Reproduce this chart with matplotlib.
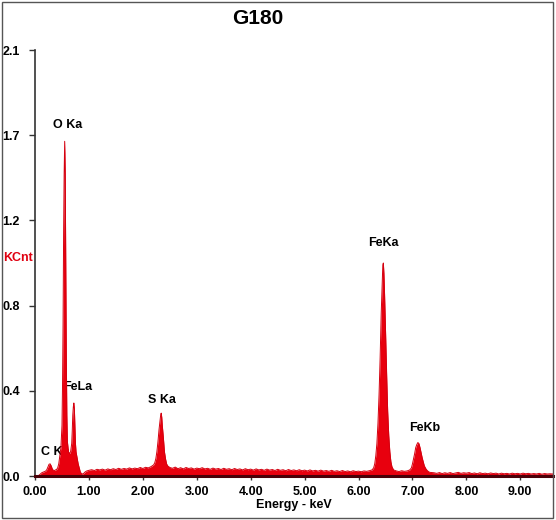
import matplotlib
matplotlib.use("Agg")
import matplotlib.pyplot as plt
from matplotlib.patches import Rectangle

# EDS spectrum G180 (energy in keV, intensity in KCnt)
energy_kev = [
    0.00, 0.02, 0.04, 0.06, 0.08, 0.10, 0.12, 0.14, 0.16, 0.18, 0.20, 0.22, 0.24, 0.26, 0.28,
    0.30, 0.32, 0.34, 0.36, 0.38, 0.40, 0.42, 0.44, 0.46, 0.48, 0.50, 0.51, 0.52, 0.53, 0.54,
    0.55, 0.56, 0.57, 0.58, 0.59, 0.60, 0.62, 0.64, 0.66, 0.68, 0.69, 0.70, 0.71, 0.72, 0.73,
    0.74, 0.75, 0.76, 0.78, 0.80, 0.82, 0.84, 0.86, 0.88, 0.90, 0.92, 0.94, 0.96,
    1.00, 1.05, 1.10, 1.15, 1.20, 1.25, 1.30, 1.35, 1.40, 1.45, 1.50, 1.55, 1.60, 1.65, 1.70,
    1.75, 1.80, 1.85, 1.90, 1.95, 2.00, 2.05, 2.10, 2.15, 2.20,
    2.22, 2.24, 2.26, 2.28, 2.30, 2.32, 2.33, 2.34, 2.35, 2.36, 2.38, 2.40, 2.42, 2.44, 2.46, 2.50,
    2.55, 2.60, 2.65, 2.70, 2.75, 2.80, 2.85, 2.90, 2.95, 3.00, 3.05, 3.10, 3.15, 3.20, 3.25,
    3.30, 3.35, 3.40, 3.45, 3.50, 3.55, 3.60, 3.65, 3.70, 3.75, 3.80, 3.85, 3.90, 3.95, 4.00,
    4.05, 4.10, 4.15, 4.20, 4.25, 4.30, 4.35, 4.40, 4.45, 4.50, 4.55, 4.60, 4.65, 4.70, 4.75,
    4.80, 4.85, 4.90, 4.95, 5.00, 5.05, 5.10, 5.15, 5.20, 5.25, 5.30, 5.35, 5.40, 5.45, 5.50,
    5.55, 5.60, 5.65, 5.70, 5.75, 5.80, 5.85, 5.90, 5.95, 6.00, 6.05, 6.10, 6.15, 6.20, 6.25,
    6.28, 6.30, 6.32, 6.34, 6.36, 6.38, 6.40, 6.42, 6.44, 6.45, 6.46, 6.47, 6.48, 6.50, 6.52,
    6.54, 6.56, 6.58, 6.60, 6.62, 6.65, 6.70, 6.75, 6.80, 6.85, 6.90, 6.95,
    6.98, 7.00, 7.02, 7.04, 7.06, 7.08, 7.10, 7.12, 7.14, 7.16, 7.18, 7.20, 7.22, 7.25, 7.28, 7.32,
    7.40, 7.45, 7.50, 7.55, 7.60, 7.65, 7.70, 7.75, 7.80, 7.85, 7.90, 7.95, 8.00, 8.05, 8.10,
    8.15, 8.20, 8.25, 8.30, 8.35, 8.40, 8.45, 8.50, 8.55, 8.60, 8.65, 8.70, 8.75, 8.80, 8.85,
    8.90, 8.95, 9.00, 9.05, 9.10, 9.15, 9.20, 9.25, 9.30, 9.35, 9.40, 9.45, 9.50, 9.55, 9.60,
]
kcnt = [
    0.000, 0.000, 0.000, 0.002, 0.005, 0.010, 0.015, 0.018, 0.020, 0.022, 0.025, 0.032, 0.045, 0.058, 0.060,
    0.050, 0.035, 0.028, 0.027, 0.030, 0.032, 0.040, 0.060, 0.100, 0.140, 0.250, 0.450, 0.750, 1.200, 1.490,
    1.650, 1.490, 1.050, 0.600, 0.300, 0.170, 0.120, 0.110, 0.120, 0.160, 0.220, 0.300, 0.340, 0.360, 0.330,
    0.240, 0.160, 0.120, 0.090, 0.060, 0.040, 0.020, 0.012, 0.010, 0.012, 0.018, 0.022, 0.025,
    0.028, 0.031, 0.027, 0.033, 0.030, 0.034, 0.029, 0.035, 0.031, 0.036, 0.032, 0.038, 0.033, 0.037, 0.034,
    0.040, 0.035, 0.039, 0.036, 0.042, 0.037, 0.043, 0.040, 0.046, 0.055,
    0.065, 0.085, 0.120, 0.170, 0.230, 0.280, 0.300, 0.310, 0.290, 0.250, 0.190, 0.120, 0.085, 0.060, 0.050, 0.042,
    0.038, 0.044, 0.036, 0.041, 0.035, 0.042, 0.037, 0.040, 0.034, 0.039, 0.036, 0.041, 0.035, 0.038, 0.033,
    0.039, 0.034, 0.037, 0.032, 0.038, 0.033, 0.036, 0.031, 0.037, 0.032, 0.035, 0.030, 0.036, 0.031, 0.034,
    0.029, 0.035, 0.030, 0.033, 0.028, 0.034, 0.029, 0.032, 0.027, 0.033, 0.028, 0.031, 0.026, 0.032, 0.027,
    0.030, 0.026, 0.031, 0.026, 0.029, 0.025, 0.030, 0.025, 0.028, 0.024, 0.029, 0.024, 0.027, 0.023, 0.028,
    0.023, 0.026, 0.022, 0.027, 0.022, 0.025, 0.021, 0.026, 0.022, 0.024, 0.021, 0.025, 0.023, 0.026, 0.030,
    0.040, 0.060, 0.100, 0.160, 0.260, 0.400, 0.580, 0.800, 0.970, 1.040, 1.050, 1.000, 0.920, 0.720, 0.500,
    0.320, 0.200, 0.120, 0.070, 0.045, 0.030, 0.025, 0.022, 0.026, 0.023, 0.025, 0.030,
    0.040, 0.060, 0.085, 0.110, 0.140, 0.155, 0.165, 0.160, 0.140, 0.115, 0.090, 0.070, 0.050, 0.035, 0.025, 0.018,
    0.016, 0.013, 0.017, 0.012, 0.016, 0.013, 0.017, 0.012, 0.015, 0.018, 0.013, 0.016, 0.014, 0.017, 0.012,
    0.015, 0.011, 0.016, 0.012, 0.014, 0.011, 0.015, 0.012, 0.014, 0.010, 0.014, 0.011, 0.013, 0.010, 0.014,
    0.011, 0.013, 0.010, 0.014, 0.011, 0.013, 0.010, 0.012, 0.010, 0.013, 0.009, 0.012, 0.010, 0.011, 0.010,
]

# peak labels: (text, x, y)
peak_names = ["O Ka", "FeLa", "S Ka", "FeKa", "FeKb", "C Ka"]
peak_x = [0.61, 0.80, 2.35, 6.46, 7.22, 0.37]
peak_y = [1.73, 0.44, 0.375, 1.15, 0.237, 0.118]

x_ticks = [0, 1, 2, 3, 4, 5, 6, 7, 8, 9]
x_ticklabels = ["0.00", "1.00", "2.00", "3.00", "4.00", "5.00", "6.00", "7.00", "8.00", "9.00"]
y_ticks = [0.0, 0.42, 0.84, 1.26, 1.68, 2.1]
y_ticklabels = ["0.0", "0.4", "0.8", "1.2", "1.7", "2.1"]

plt.rcParams["font.family"] = ["Liberation Sans", "DejaVu Sans"]
plt.rcParams["font.weight"] = "bold"

fig = plt.figure(figsize=(5.56, 5.20), dpi=100)
ax = fig.add_axes([0.063, 0.0846, 0.931, 0.8192])

# figure frame
fig.patches.append(Rectangle((0.004, 0.003), 0.991, 0.994, transform=fig.transFigure,
                             fill=False, edgecolor="#555555", linewidth=1.0))

ax.fill_between(energy_kev, kcnt, 0, color="#e8000e", linewidth=0, zorder=3)
ax.plot(energy_kev, kcnt, color="#d4000f", linewidth=0.7, zorder=3)

ax.set_xlim(0, 9.6)
ax.set_ylim(0, 2.1)

for s in ["top", "right"]:
    ax.spines[s].set_visible(False)
ax.spines["left"].set_color("#333333")
ax.spines["left"].set_linewidth(1.2)
ax.spines["bottom"].set_color("#4a0008")
ax.spines["bottom"].set_linewidth(2.2)
ax.spines["bottom"].set_zorder(4)

ax.set_xticks(x_ticks)
ax.set_xticklabels(x_ticklabels, fontsize=9, fontweight="bold")
ax.set_yticks(y_ticks)
ax.set_yticklabels(y_ticklabels, fontsize=9, fontweight="bold", ha="left")
ax.tick_params(axis="x", length=3, width=1, color="#333333", pad=4)
ax.tick_params(axis="y", length=4, width=1, color="#333333", pad=19.5)

for name, x, y in zip(peak_names, peak_x, peak_y):
    ax.text(x, y, name, ha="center", va="center", fontsize=9, fontweight="bold", zorder=2)

ax.set_xlabel("Energy - keV", fontsize=9, fontweight="bold", labelpad=1)
fig.text(0.006, 0.504, "KCnt", color="#e00010", fontsize=9, fontweight="bold", ha="left", va="center")
fig.text(0.464, 0.965, "G180", fontsize=15, fontweight="bold", ha="center", va="center")

fig.savefig("out.png", dpi=100)
